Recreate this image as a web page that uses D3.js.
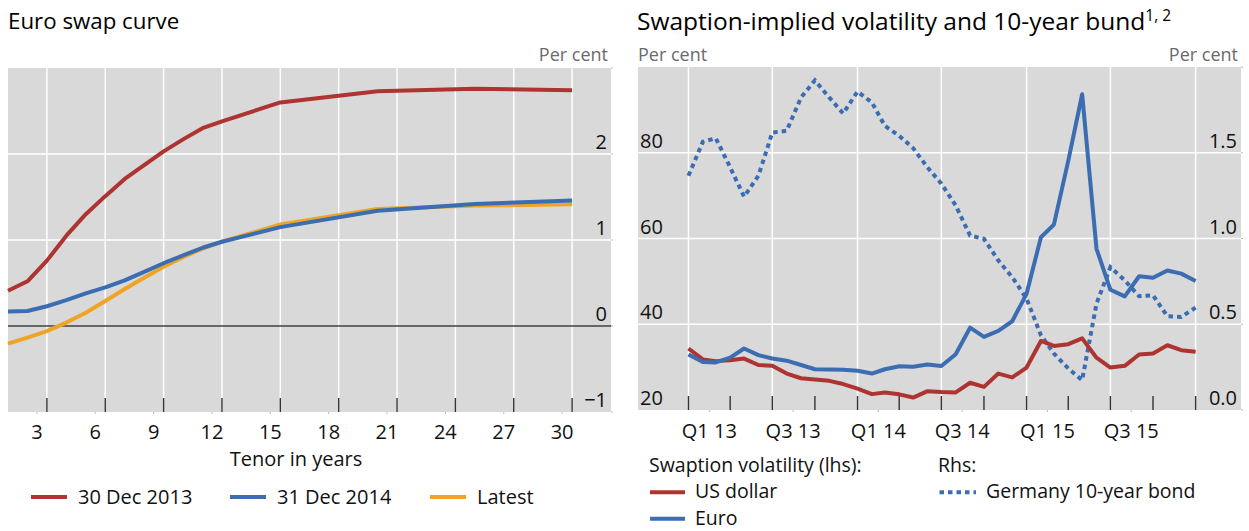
<!DOCTYPE html>
<html><head><meta charset="utf-8">
<script src="https://cdn.jsdelivr.net/npm/d3@7"></script>
<style>body{margin:0;background:#fff;} svg{display:block;font-family:"Open Sans",sans-serif;}</style>
</head><body><svg id="c" width="1249" height="531"></svg>
<script>
// ---------- Left panel data: Euro swap curve ----------
const tenors = [1,2,3,4,5,6,7,8,9,10,11,12,15,20,25,30];
const curve2013 = [0.41,0.52,0.76,1.05,1.30,1.51,1.71,1.87,2.03,2.17,2.30,2.38,2.60,2.73,2.76,2.74];
const curve2014 = [0.17,0.175,0.23,0.30,0.38,0.45,0.53,0.63,0.73,0.82,0.91,0.98,1.15,1.34,1.42,1.46];
const curveLatest = [-0.205,-0.135,-0.06,0.04,0.155,0.29,0.43,0.56,0.69,0.80,0.90,0.98,1.18,1.36,1.40,1.415];
const tenorTicks = [3,6,9,12,15,18,21,24,27,30];
const swapYTicks = [-1,0,1,2];

// ---------- Right panel data: swaption vol and bund (monthly, Jan 2013 - Jan 2016) ----------
const months = d3.timeMonth.range(new Date(2013,0,1), new Date(2016,1,1));
const usdVol = [34.35,31.8,31.4,31.6,32.0,30.5,30.3,28.5,27.4,27.1,26.8,26.05,25.0,23.7,24.1,23.65,22.9,24.4,24.2,24.1,26.35,25.4,28.5,27.6,29.9,36.1,34.95,35.35,36.7,32.2,29.9,30.3,32.95,33.2,35.1,33.95,33.6];
const eurVol = [32.95,31.2,31.1,32.2,34.35,32.8,32.0,31.5,30.5,29.5,29.45,29.4,29.15,28.5,29.5,30.2,30.1,30.6,30.25,33.0,39.2,37.05,38.45,40.7,47.1,60.3,63.25,78.1,93.65,57.6,48.05,46.5,51.2,50.85,52.55,51.8,50.1];
const bund10y = [1.366,1.564,1.585,1.415,1.244,1.366,1.618,1.628,1.822,1.922,1.822,1.729,1.857,1.793,1.657,1.599,1.527,1.415,1.32,1.192,1.017,0.998,0.872,0.775,0.649,0.436,0.329,0.242,0.174,0.62,0.833,0.756,0.663,0.669,0.547,0.543,0.597];
const quarterLabels = ["Q1 13","Q3 13","Q1 14","Q3 14","Q1 15","Q3 15"];
const lhsTicks = [20,40,60,80];
const rhsTicks = [0,0.5,1.0,1.5];

const RED = "#ad3431", BLUE = "#3b6db3", YEL = "#eea526", BG = "#d9d9d9";
const FS = 20, LFS = 19.5;
const svg = d3.select("#c");

// ================= LEFT PANEL =================
const L = {x0:8, x1:611, y0:68, y1:412};
const xL = d3.scaleLinear().domain([1,32]).range([L.x0, L.x1]);
const yL = d3.scaleLinear().domain([-1,3]).range([L.y1, L.y0]);

svg.append("text").attr("x",8).attr("y",29).attr("font-size",22.3).attr("fill","#000").text("Euro swap curve");
svg.append("text").attr("x",608).attr("y",61).attr("font-size",18).attr("fill","#6b6b6b").attr("text-anchor","end").text("Per cent");

const gL = svg.append("g");
gL.append("rect").attr("x",L.x0).attr("y",L.y0).attr("width",L.x1-L.x0).attr("height",L.y1-L.y0).attr("fill",BG);
gL.selectAll(".vg").data(tenorTicks).join("line")
  .attr("x1",d=>xL(d)).attr("x2",d=>xL(d)).attr("y1",L.y0).attr("y2",L.y1)
  .attr("stroke","#fff").attr("stroke-width",1.5);
gL.selectAll(".hg").data([1,2]).join("line")
  .attr("x1",L.x0).attr("x2",L.x1).attr("y1",d=>yL(d)).attr("y2",d=>yL(d))
  .attr("stroke","#fff").attr("stroke-width",1.5);
gL.append("line").attr("x1",L.x0).attr("x2",L.x1).attr("y1",yL(0)).attr("y2",yL(0)).attr("stroke","#404040").attr("stroke-width",1.6);
gL.selectAll(".tk").data(tenorTicks).join("line")
  .attr("x1",d=>xL(d)).attr("x2",d=>xL(d)).attr("y1",L.y1-14).attr("y2",L.y1)
  .attr("stroke","#333").attr("stroke-width",1.4);
gL.selectAll(".mk").data(tenorTicks).join("line")
  .attr("x1",d=>xL(d)-10).attr("x2",d=>xL(d)-10).attr("y1",L.y1).attr("y2",L.y1+2)
  .attr("stroke","#bbb").attr("stroke-width",1);
gL.selectAll(".rk").data(swapYTicks.concat([3])).join("line")
  .attr("x1",L.x1).attr("x2",L.x1+2).attr("y1",d=>yL(d)).attr("y2",d=>yL(d))
  .attr("stroke","#bbb").attr("stroke-width",1);
gL.selectAll(".xl").data(tenorTicks).join("text")
  .attr("x",d=>xL(d)-10).attr("y",439).attr("text-anchor","middle").attr("font-size",FS).attr("fill","#111").text(d=>d);
gL.selectAll(".yl").data(swapYTicks).join("text")
  .attr("x",607).attr("y",d=>yL(d)-5).attr("text-anchor","end").attr("font-size",FS).attr("fill","#111")
  .text(d=>d<0?"\u2212"+Math.abs(d):d);
gL.append("text").attr("x",296).attr("y",466).attr("text-anchor","middle").attr("font-size",FS).attr("fill","#111").text("Tenor in years");

const lineL = (vals)=> d3.line().x((d,i)=>xL(tenors[i])).y(d=>yL(d))(vals);
[[curve2013,RED],[curveLatest,YEL],[curve2014,BLUE]].forEach(([v,c])=>{
  gL.append("path").attr("d",lineL(v)).attr("fill","none").attr("stroke",c).attr("stroke-width",4).attr("stroke-linejoin","round");
});

// legend left
const legL = [["30 Dec 2013",RED,31],["31 Dec 2014",BLUE,230],["Latest",YEL,430]];
legL.forEach(([t,c,x])=>{
  svg.append("line").attr("x1",x).attr("x2",x+36).attr("y1",497).attr("y2",497).attr("stroke",c).attr("stroke-width",4);
  svg.append("text").attr("x",x+47).attr("y",504).attr("font-size",FS).attr("fill","#111").text(t);
});

// ================= RIGHT PANEL =================
const R = {x0:638, x1:1241, y0:67, y1:410};
const xR = d3.scaleTime().domain([new Date(2012,8,14), new Date(2016,3,8)]).range([R.x0, R.x1]);
const yRl = d3.scaleLinear().domain([20,100]).range([R.y1, R.y0]);
const yRr = d3.scaleLinear().domain([0,2]).range([R.y1, R.y0]);

const tt = svg.append("text").attr("x",637).attr("y",30).attr("font-size",24.5).attr("fill","#000");
tt.append("tspan").text("Swaption-implied volatility and 10-year bund");
tt.append("tspan").attr("dy",-9).attr("font-size",15.5).text("1, 2");
svg.append("text").attr("x",638).attr("y",61).attr("font-size",18).attr("fill","#6b6b6b").text("Per cent");
svg.append("text").attr("x",1238).attr("y",61).attr("font-size",18).attr("fill","#6b6b6b").attr("text-anchor","end").text("Per cent");

const gR = svg.append("g");
gR.append("rect").attr("x",R.x0).attr("y",R.y0).attr("width",R.x1-R.x0).attr("height",R.y1-R.y0).attr("fill",BG);
const halfYears = d3.timeMonth.every(6).range(new Date(2013,0,1), new Date(2016,1,1));
const quarters = d3.timeMonth.every(3).range(new Date(2013,0,1), new Date(2016,1,1));
gR.selectAll(".vg").data(halfYears).join("line")
  .attr("x1",d=>xR(d)).attr("x2",d=>xR(d)).attr("y1",R.y0).attr("y2",R.y1)
  .attr("stroke","#fff").attr("stroke-width",1.5);
gR.selectAll(".hg").data([40,60,80]).join("line")
  .attr("x1",R.x0).attr("x2",R.x1).attr("y1",d=>yRl(d)).attr("y2",d=>yRl(d))
  .attr("stroke","#fff").attr("stroke-width",1.5);
gR.selectAll(".tk").data(quarters).join("line")
  .attr("x1",d=>xR(d)).attr("x2",d=>xR(d)).attr("y1",R.y1-14).attr("y2",R.y1)
  .attr("stroke","#333").attr("stroke-width",1.4);
const labelDates = halfYears.slice(0,6).map(d=>new Date(d.getFullYear(), d.getMonth()+1, 15));
gR.selectAll(".mk").data(labelDates).join("line")
  .attr("x1",d=>xR(d)).attr("x2",d=>xR(d)).attr("y1",R.y1).attr("y2",R.y1+2)
  .attr("stroke","#bbb").attr("stroke-width",1);
gR.selectAll(".rk").data([20,40,60,80,100]).join("line")
  .attr("x1",R.x1).attr("x2",R.x1+2).attr("y1",d=>yRl(d)).attr("y2",d=>yRl(d))
  .attr("stroke","#bbb").attr("stroke-width",1);
gR.selectAll(".xl").data(labelDates).join("text")
  .attr("x",d=>xR(d)).attr("y",438).attr("text-anchor","middle").attr("font-size",FS).attr("fill","#111")
  .text((d,i)=>quarterLabels[i]);
gR.selectAll(".yl").data(lhsTicks).join("text")
  .attr("x",640).attr("y",d=>yRl(d)-5).attr("font-size",FS).attr("fill","#111").text(d=>d);
gR.selectAll(".yr").data(rhsTicks).join("text")
  .attr("x",1237).attr("y",d=>yRr(d)-5).attr("text-anchor","end").attr("font-size",FS).attr("fill","#111").text(d=>d.toFixed(1));

const lineLhs = d3.line().x((d,i)=>xR(months[i])).y(d=>yRl(d));
const lineRhs = d3.line().x((d,i)=>xR(months[i])).y(d=>yRr(d));
gR.append("path").attr("d",lineRhs(bund10y)).attr("fill","none").attr("stroke",BLUE).attr("stroke-width",4).attr("stroke-dasharray","4.5,4");
gR.append("path").attr("d",lineLhs(usdVol)).attr("fill","none").attr("stroke",RED).attr("stroke-width",4).attr("stroke-linejoin","round");
gR.append("path").attr("d",lineLhs(eurVol)).attr("fill","none").attr("stroke",BLUE).attr("stroke-width",4).attr("stroke-linejoin","round");

// legend right
svg.append("text").attr("x",649).attr("y",471.5).attr("font-size",LFS).attr("fill","#111").text("Swaption volatility (lhs):");
svg.append("text").attr("x",938).attr("y",471.5).attr("font-size",LFS).attr("fill","#111").text("Rhs:");
[["US dollar",RED,498.2],["Euro",BLUE,524.8]].forEach(([t,c,y])=>{
  svg.append("line").attr("x1",650).attr("x2",685).attr("y1",y-6).attr("y2",y-6).attr("stroke",c).attr("stroke-width",4);
  svg.append("text").attr("x",695).attr("y",y).attr("font-size",LFS).attr("fill","#111").text(t);
});
svg.append("line").attr("x1",939.5).attr("x2",976).attr("y1",492.2).attr("y2",492.2).attr("stroke",BLUE).attr("stroke-width",4).attr("stroke-dasharray","4.5,4");
svg.append("text").attr("x",986).attr("y",498.2).attr("font-size",LFS).attr("fill","#111").text("Germany 10-year bond");
</script></body></html>
